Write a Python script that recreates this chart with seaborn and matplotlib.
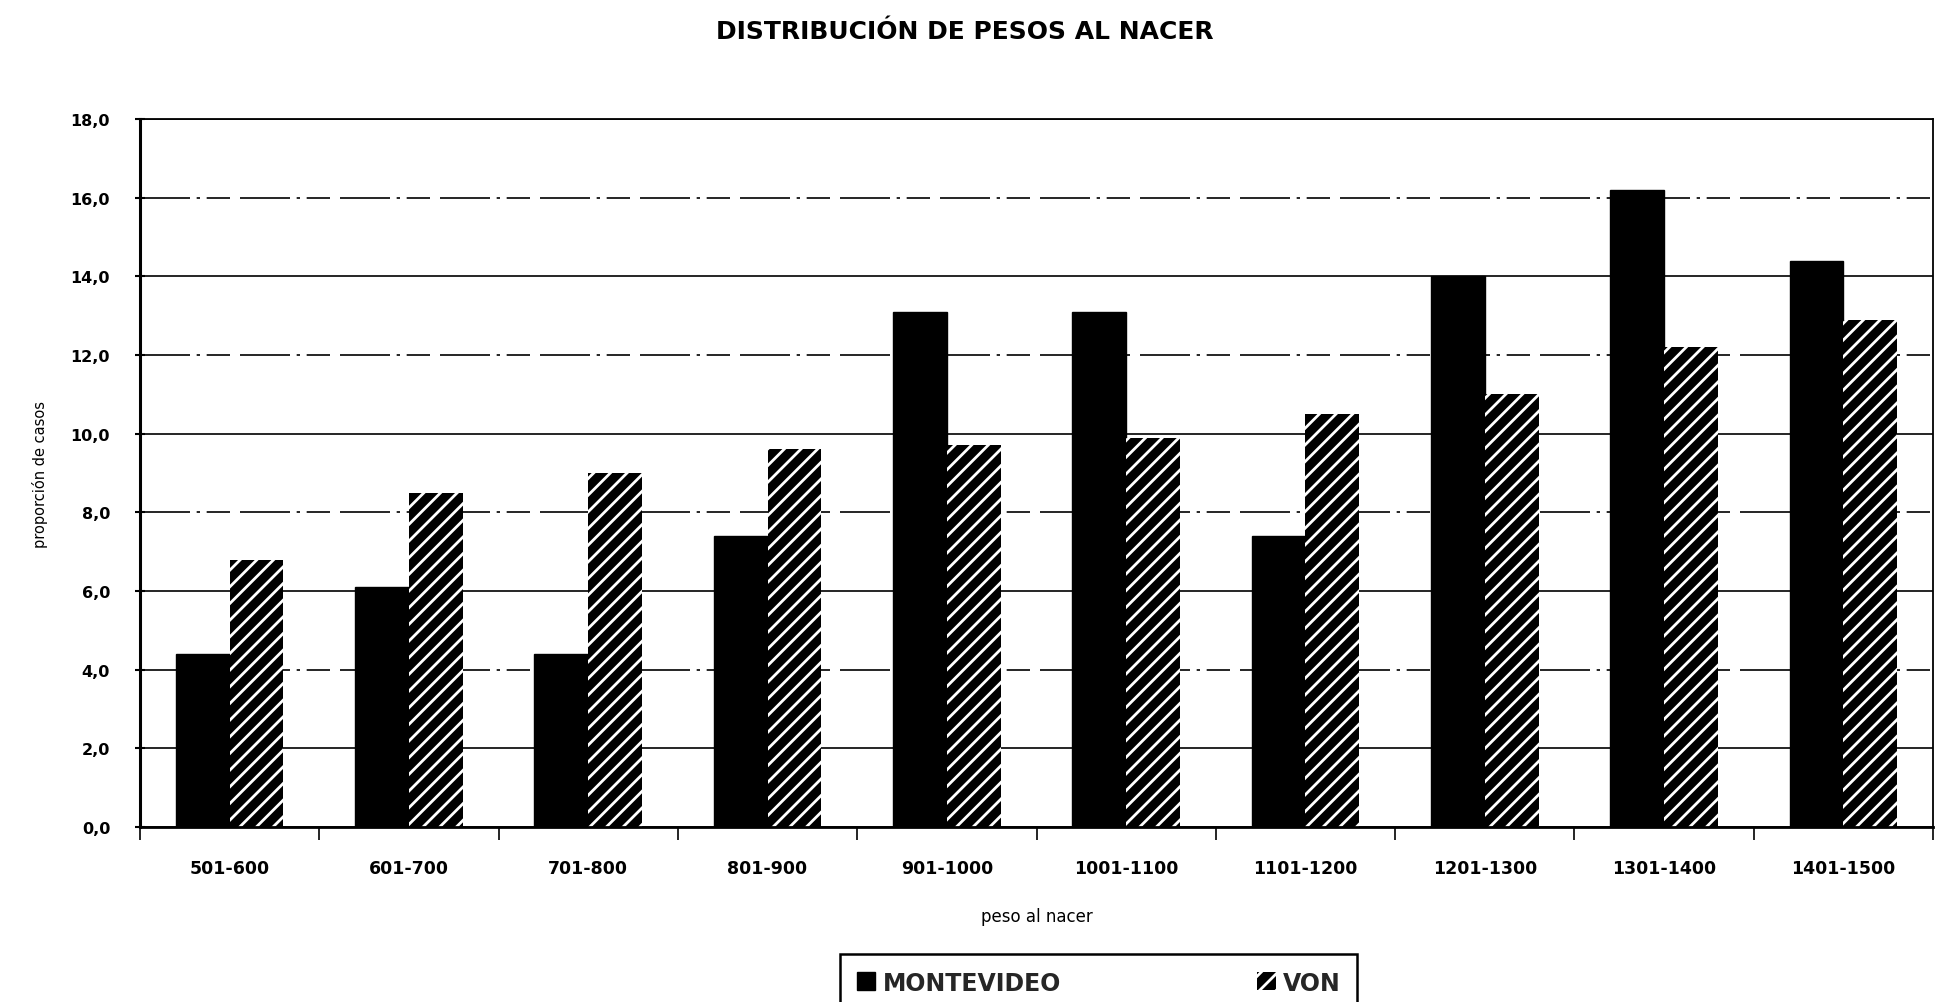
import matplotlib
matplotlib.use("Agg")
import matplotlib.pyplot as plt
from matplotlib.ticker import FixedLocator, FuncFormatter
import pandas as pd
import seaborn as sns

# --- data ---
categories = ["501-600", "601-700", "701-800", "801-900", "901-1000",
              "1001-1100", "1101-1200", "1201-1300", "1301-1400", "1401-1500"]
series_names = ["MONTEVIDEO", "VON"]
montevideo = [4.4, 6.1, 4.4, 7.4, 13.1, 13.1, 7.4, 14.0, 16.2, 14.4]
von = [6.8, 8.5, 9.0, 9.6, 9.7, 9.9, 10.5, 11.0, 12.2, 12.9]
y_ticks = [0, 2, 4, 6, 8, 10, 12, 14, 16, 18]

df = pd.DataFrame({
    "peso": categories * 2,
    "serie": [series_names[0]] * len(categories) + [series_names[1]] * len(categories),
    "valor": montevideo + von,
})

sns.set_theme(style="white")
plt.rcParams["font.family"] = ["DejaVu Sans"]
plt.rcParams["hatch.linewidth"] = 2.0

fig = plt.figure(figsize=(19.42, 10.03), dpi=100)
ax = fig.add_axes([140 / 1942, 1 - 828 / 1003, (1933 - 140) / 1942, (828 - 120) / 1003])

sns.barplot(data=df, x="peso", y="valor", hue="serie", order=categories,
            hue_order=series_names, palette=["black", "black"], width=0.6,
            saturation=1, legend=False, ax=ax)

# first series solid black, second black with white diagonal stripes
for patch in ax.containers[0]:
    patch.set_facecolor("black")
    patch.set_edgecolor("black")
for patch in ax.containers[1]:
    patch.set_facecolor("black")
    patch.set_edgecolor("white")
    patch.set_hatch("//")
    patch.set_linewidth(0)

ax.set_ylim(0, 18)
ax.set_xlim(-0.5, len(categories) - 0.5)

# gridlines (the scanned original has broken lines on every other level)
ax.yaxis.set_major_locator(FixedLocator(y_ticks))
ax.yaxis.set_major_formatter(FuncFormatter(lambda v, _: f"{v:.1f}".replace(".", ",")))
ax.grid(axis="y", color="black", linewidth=1.2)
ax.set_axisbelow(True)
for val, line in zip(y_ticks, ax.get_ygridlines()):
    if val % 4 == 0 and val != 0:
        line.set_linestyle((0, (30, 4, 2, 4, 14, 6)))

for spine in ax.spines.values():
    spine.set_visible(True)
    spine.set_color("black")
    spine.set_linewidth(1.3)
ax.spines["left"].set_linewidth(2.2)
ax.spines["bottom"].set_linewidth(2.0)

# x ticks sit between categories
ax.xaxis.set_minor_locator(FixedLocator([i - 0.5 for i in range(len(categories) + 1)]))
ax.tick_params(axis="x", which="major", length=0, pad=23, labelsize=12.5, colors="black")
ax.tick_params(axis="x", which="minor", bottom=True, length=9, width=1.2, direction="out", color="black")
ax.tick_params(axis="y", which="major", left=True, length=7, width=1.5, direction="inout",
               pad=18, labelsize=11.5, colors="black")
for lbl in ax.get_xticklabels() + ax.get_yticklabels():
    lbl.set_fontweight("bold")

ax.set_xlabel("peso al nacer", fontsize=12, color="black")
ax.xaxis.set_label_coords(0.5, -(908 - 828) / (828 - 120))
ax.set_ylabel("proporción de casos", fontsize=10.5, labelpad=16, color="black")

fig.text(0.497, 1 - 32 / 1003, "DISTRIBUCIÓN DE PESOS AL NACER", ha="center", va="center",
         fontsize=18, fontweight="bold", color="black")

leg = fig.legend(ax.containers, series_names, loc="upper left",
                 bbox_to_anchor=(840 / 1942, 1 - 955 / 1003), ncol=2,
                 frameon=True, fancybox=False, edgecolor="black", framealpha=1,
                 borderpad=0.7, handlelength=0.8, handleheight=0.8, handletextpad=0.3,
                 columnspacing=8.3, borderaxespad=0,
                 prop={"weight": "bold", "size": 17})
leg.get_frame().set_linewidth(1.8)

fig.savefig("out.png", dpi=100)
